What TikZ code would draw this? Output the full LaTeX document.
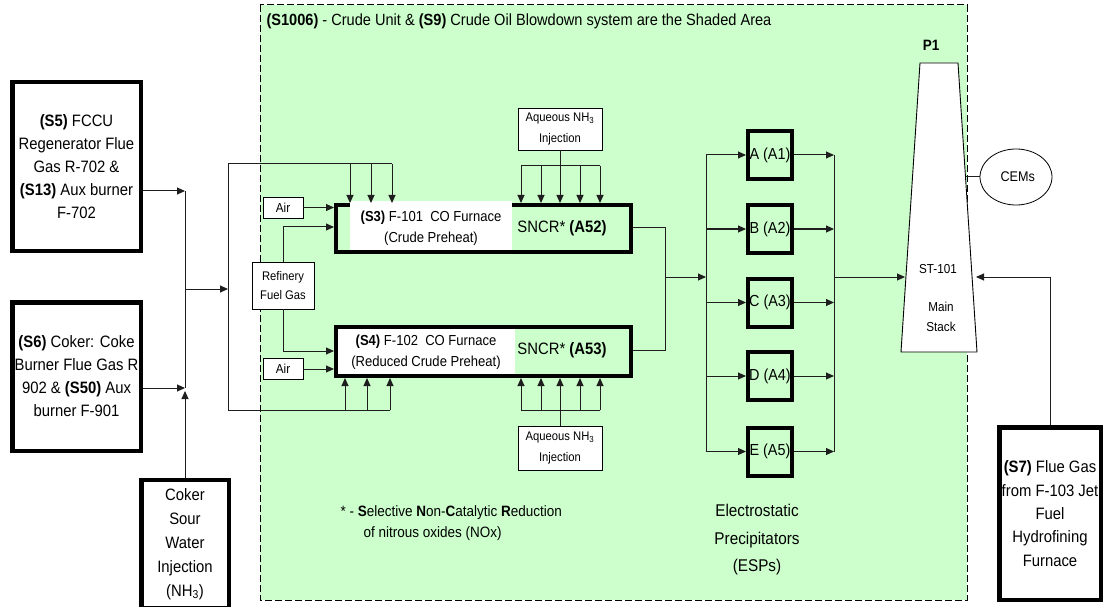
\documentclass[tikz,border=0pt]{standalone}
\usepackage{fontspec}
\setmainfont{Liberation Sans}[FakeStretch=0.9]
\usetikzlibrary{arrows.meta,shapes.geometric,calc}
\definecolor{shadegreen}{RGB}{204,255,204}
\definecolor{ink}{RGB}{30,30,30}
\newcommand{\fsz}[2]{\fontsize{#1}{#2}\selectfont}
\begin{document}
\begin{tikzpicture}[x=1pt,y=-1pt,
  sbox/.style={draw=black, line width=4.5pt, fill=white, align=center, inner sep=0pt},
  tbox/.style={draw=black, line width=4pt, inner sep=0pt},
  lbox/.style={draw=black, line width=0.9pt, fill=white, align=center, inner sep=0pt},
  ln/.style={draw=ink, line width=1pt},
  arr/.style={ln, -{Triangle[length=8pt,width=7pt]}},
  espbox/.style={draw=black, line width=4pt, minimum width=44pt, minimum height=48pt, inner sep=0pt, font=\fsz{16}{18}},
]
\useasboundingbox (0,0) rectangle (1104,607);
\fill[white] (0,0) rectangle (1104,607);
% shaded area
\draw[fill=shadegreen, line width=1pt, dash pattern=on 7pt off 3pt] (260,5) rectangle (967,600);
\begin{scope}
\clip (255,8) rectangle (776,34);
\node[anchor=west, font=\fsz{16.2}{18}] (hdr) at (263,21) {\textbf{(S1006)} - Crude Unit \& \textbf{(S9)} Crude Oil Blowdown system are the Shaded Area};
\end{scope}

% left source boxes
\node[sbox, minimum width=128.5pt, minimum height=168.5pt, font=\fsz{16.5}{23}] (S5) at (76.5,166.5) {\textbf{(S5)} FCCU\\Regenerator Flue\\Gas R-702 \&\\\textbf{(S13)} Aux burner\\F-702};
\node[sbox, minimum width=128.5pt, minimum height=148.5pt, font=\fsz{16.5}{23}] (S6) at (76.5,376.5) {\textbf{(S6)} Coker: Coke\\Burner Flue Gas R\\902 \& \textbf{(S50)} Aux\\burner F-901};
\node[sbox, minimum width=87.5pt, minimum height=128pt, font=\fsz{16.5}{24}] (CSW) at (185,544) {Coker\\Sour\\Water\\Injection\\(NH\textsubscript{3})};
\node[sbox, minimum width=101.5pt, minimum height=172.5pt, font=\fsz{16.5}{23.3}] (S7) at (1050,513.5) {\textbf{(S7)} Flue Gas\\from F-103 Jet\\Fuel\\Hydrofining\\Furnace};

% left junctions
\coordinate (j5) at (185,191);
\coordinate (j6) at (185,388);
\coordinate (jc) at (185,391);
\coordinate (jm) at (185,289);
\coordinate (mL) at (228,289);
\coordinate (mT) at (228,164);
\coordinate (mB) at (228,410);
\draw[arr] (S5.east |- j5) -- (j5);
\draw[arr] (S6.east |- j6) -- (j6);
\draw[arr] (CSW.north) -- (jc);
\draw[ln] (j5) -- (j6);
\draw[arr] (jm) -- (mL);
\draw[ln] (mT) -- (mB);

% furnaces
\node[tbox, minimum width=295pt, minimum height=47pt] (F101) at (483.5,228.5) {};
\fill[white] (350,201) rectangle (512,250);
\node[font=\fsz{14.5}{21}, align=center] (F101t) at (431,228.5) {\textbf{(S3)} F-101\ \ CO Furnace\\(Crude Preheat)};
\node[font=\fsz{16.5}{18}] (F101s) at (562,228) {SNCR* \textbf{(A52)}};

\node[tbox, minimum width=295pt, minimum height=49pt] (F102) at (483.5,351.5) {};
\fill[white] (338,329) rectangle (515,374);
\node[font=\fsz{14.5}{21}, align=center] (F102t) at (426,352.5) {\textbf{(S4)} F-102\ \ CO Furnace\\(Reduced Crude Preheat)};
\node[font=\fsz{16.5}{18}] (F102s) at (562,350) {SNCR* \textbf{(A53)}};

% air and fuel gas
\node[lbox, minimum width=40pt, minimum height=21pt, font=\fsz{13}{15}] (Air1) at (283,207.5) {Air};
\node[lbox, minimum width=40pt, minimum height=21pt, font=\fsz{13}{15}] (Air2) at (283,369) {Air};
\node[lbox, minimum width=62pt, minimum height=47pt, font=\fsz{12.5}{19}] (RFG) at (283,285.5) {Refinery\\Fuel Gas};
\coordinate (fgT) at (284,227);
\coordinate (fgB) at (284,351);
\draw[arr] (Air1.east) -- (Air1.east -| F101.west);
\draw[arr] (RFG.north) -- (RFG.north |- fgT) -- (fgT -| F101.west);
\draw[arr] (RFG.south) -- (RFG.south |- fgB) -- (fgB -| F102.west);
\draw[arr] (Air2.east) -- (Air2.east -| F102.west);

% manifold drops from the left
\foreach \x [count=\i] in {350,371,392} {
  \coordinate (dt\i) at (\x,164);
  \draw[arr] (dt\i) -- (dt\i |- F101.north);
}
\draw[ln] (mT) -- (dt3);
\foreach \x [count=\i] in {345,367,390} {
  \coordinate (db\i) at (\x,410);
  \draw[arr] (db\i) -- (db\i |- F102.south);
}
\draw[ln] (mB) -- (db3);

% aqueous NH3 injection
\node[lbox, minimum width=84pt, minimum height=42pt, font=\fsz{12.5}{21}] (NH3t) at (560,129) {Aqueous NH\textsubscript{3}\\Injection};
\node[lbox, minimum width=84pt, minimum height=44pt, font=\fsz{12.5}{21}] (NH3b) at (560,448) {Aqueous NH\textsubscript{3}\\Injection};
\foreach \x [count=\i] in {521,541,560,580,600} {
  \coordinate (nt\i) at (\x,166);
  \draw[arr] (nt\i) -- (nt\i |- F101.north);
  \coordinate (nb\i) at (\x,410);
  \draw[arr] (nb\i) -- (nb\i |- F102.south);
}
\draw[ln] (nt1) -- (nt5);
\draw[ln] (NH3t.south) -- (nt3);
\draw[ln] (nb1) -- (nb5);
\draw[ln] (NH3b.north) -- (nb3);

% furnace outlets
\coordinate (oT) at (665,228);
\coordinate (oB) at (665,350);
\coordinate (oM) at (665,277);
\coordinate (eL) at (706,277);
\coordinate (eR) at (834,277);
\draw[ln] (F101.east |- oT) -- (oT) -- (oB) -- (F102.east |- oB);
\draw[arr] (oM) -- (eL);

% ESPs
\foreach \n/\y/\t in {A/155/A (A1),B/229/B (A2),C/302.5/C (A3),D/376/D (A4),E/451.5/E (A5)} {
  \node[espbox] (\n) at (770,\y) {\t};
  \draw[arr] (\n.west -| eL) -- (\n.west);
  \draw[arr] (\n.east) -- (\n.east -| eR);
}
\draw[ln] (A.west -| eL) -- (E.west -| eL);
\draw[ln] (A.east -| eR) -- (E.east -| eR);

% stack
\draw[fill=white, line width=0.9pt] (920,63) -- (958,63) -- (977,352) -- (901,352) -- cycle;
\coordinate (stkL) at (905,277);
\coordinate (stkR) at (976,277);
\coordinate (stkC) at (965.5,177);
\node[font=\bfseries\fsz{15}{17}] (P1) at (931,45) {P1};
\node[font=\fsz{13}{15}] (st) at (938,269) {ST-101};
\node[font=\fsz{13}{20}, align=center] (ms) at (941,317) {Main\\Stack};
\draw[arr] (eR) -- (stkL);

\node[draw, ellipse, line width=0.8pt, minimum width=72pt, minimum height=56pt, inner sep=0pt, font=\fsz{14}{16}] (CEM) at (1016,177) {\ CEMs};
\draw[ln] (stkC) -- (CEM.west);

\coordinate (s7T) at (1050,277);
\draw[arr] (S7.north) -- (s7T) -- (stkR);

% notes
\node[anchor=west, font=\fsz{15}{20}] (note1) at (337,513) {* - \textbf{S}elective \textbf{N}on-\textbf{C}atalytic \textbf{R}eduction};
\node[anchor=west, font=\fsz{15}{20}] (note2) at (360,534) {of nitrous oxides (NOx)};
\node[font=\fsz{17}{27.5}, align=center] (esp) at (757,540) {Electrostatic\\Precipitators\\(ESPs)};
\end{tikzpicture}
\end{document}
